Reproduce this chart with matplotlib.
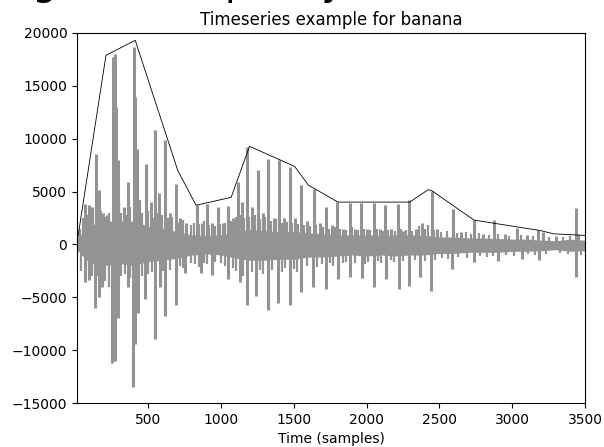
import matplotlib
matplotlib.use("Agg")
import matplotlib.pyplot as plt

# dense core of the waveform, read every 100 samples
band_t = [0, 100, 200, 300, 400, 500, 600, 700, 800, 900, 1000, 1100, 1200,
          1300, 1400, 1500, 1600, 1700, 1800, 1900, 2000, 2100, 2200, 2300,
          2400, 2500, 2600, 2700, 2800, 2900, 3000, 3100, 3200, 3300, 3400, 3500]
band_top = [400, 1800, 2200, 2200, 2200, 1700, 1500, 1200, 900, 850, 900,
            1200, 1400, 1300, 1200, 1200, 1100, 1000, 900, 900, 900, 850,
            900, 900, 850, 700, 700, 600, 600, 550, 500, 500, 400, 350, 500, 400]
band_bot = [-400, -1800, -2000, -1800, -2000, -1600, -1500, -1300, -1000, -900,
            -1000, -1300, -1500, -1500, -1400, -1400, -1200, -1200, -1100, -1000,
            -1100, -1000, -1100, -1000, -1000, -850, -850, -750, -750, -750,
            -650, -650, -600, -500, -650, -600]

# positive spikes (sample, amplitude)
pos_t = [64, 94, 110, 140, 163, 190, 215, 255, 268, 275, 289, 330, 357, 399,
         410, 425, 484, 520, 546, 576, 615, 650, 690, 720, 760, 835, 870, 904,
         940, 977, 1010, 1046, 1080, 1115, 1145, 1177, 1210, 1252, 1290, 1321,
         1360, 1397, 1430, 1470, 1510, 1551, 1590, 1636, 1680, 1718, 1760, 1799,
         1840, 1883, 1920, 1964, 2000, 2051, 2090, 2129, 2170, 2216, 2250, 2292,
         2340, 2380, 2446, 2480, 2590, 2650, 2737, 2800, 2875, 2950, 3035, 3100,
         3180, 3214, 3300, 3436]
pos_y = [3850, 3690, 3500, 8580, 5110, 3000, 2800, 17700, 18000, 13000, 7950,
         3500, 5900, 18670, 13930, 9000, 7630, 4000, 10850, 4820, 9840, 3000,
         5740, 2500, 2000, 3690, 2000, 3850, 2000, 3530, 2000, 3600, 2500, 5900,
         4000, 9210, 3500, 7000, 3000, 8100, 2500, 8010, 2500, 7310, 2500, 5580,
         2200, 5270, 2000, 3530, 1800, 4000, 1500, 3910, 1500, 3910, 1500, 3910,
         1500, 3690, 1500, 3850, 1300, 4160, 1500, 2000, 5050, 1500, 3370, 1200,
         2270, 1000, 2270, 1000, 1580, 900, 1390, 1200, 800, 3470]

# negative spikes (sample, amplitude)
neg_t = [66, 94, 135, 163, 185, 252, 273, 290, 357, 395, 410, 430, 479, 548,
         580, 617, 690, 755, 860, 935, 1050, 1133, 1175, 1243, 1320, 1388, 1470,
         1546, 1629, 1718, 1800, 1883, 1966, 2052, 2131, 2220, 2289, 2365, 2441,
         2585, 2737, 2902, 3068, 3185, 3440]
neg_y = [-3570, -3400, -6000, -5000, -4000, -11240, -11000, -7000, -4000,
         -13500, -9400, -6500, -5200, -8950, -4000, -6800, -5700, -2700, -2700,
         -2900, -3300, -3570, -5770, -4900, -6250, -5500, -5770, -4480, -4050,
         -4200, -3300, -3050, -3200, -4050, -3300, -4200, -3950, -3100, -4380,
         -2300, -1700, -1550, -1400, -1450, -3090]

# smaller strokes around the core
minor_up_t = [30, 50, 80, 120, 150, 175, 205, 230, 300, 315, 345, 375, 440, 455,
              500, 530, 560, 595, 635, 665, 705, 740, 790, 815, 850, 885, 920,
              960, 995, 1030, 1065, 1100, 1130, 1160, 1195, 1230, 1270, 1305,
              1340, 1380, 1415, 1450, 1490, 1530, 1570, 1610, 1655, 1700, 1740,
              1780, 1820, 1860, 1900, 1940, 1980, 2020, 2070, 2110, 2150, 2195,
              2235, 2270, 2315, 2360, 2400, 2420, 2465, 2510, 2550, 2620, 2680,
              2720, 2770, 2840, 2900, 2980, 3060, 3140, 3250, 3350, 3400, 3460]
minor_up_y = [1500, 2500, 2800, 3000, 2500, 3200, 2600, 3000, 4000, 3000, 2800,
              3500, 4200, 3000, 3200, 2500, 3000, 2800, 2500, 2600, 2000, 2300,
              1800, 2000, 1900, 2200, 1800, 1700, 1900, 2000, 2200, 2600, 2800,
              2500, 2600, 2800, 2400, 2600, 2200, 2400, 2000, 2100, 2000, 1900,
              1800, 1700, 1800, 1600, 1500, 1600, 1500, 1400, 1600, 1400, 1500,
              1400, 1500, 1300, 1400, 1300, 1500, 1400, 1300, 1700, 1500, 1800,
              1400, 1200, 1300, 1100, 1200, 1000, 1100, 900, 1000, 800, 900,
              800, 700, 700, 800, 900]
minor_dn_t = [40, 75, 110, 150, 205, 230, 315, 340, 375, 455, 500, 525, 600,
              650, 715, 735, 790, 820, 845, 880, 905, 960, 1000, 1025, 1080,
              1100, 1150, 1210, 1270, 1290, 1350, 1420, 1440, 1500, 1520, 1590,
              1660, 1690, 1750, 1770, 1840, 1860, 1920, 1990, 2010, 2080, 2100,
              2170, 2190, 2250, 2330, 2400, 2470, 2520, 2560, 2630, 2690, 2780,
              2830, 2870, 2960, 3010, 3110, 3160, 3230, 3330, 3380, 3470]
minor_dn_y = [-2500, -2800, -3000, -3000, -3500, -4000, -3000, -2800, -3200,
              -3000, -2800, -2600, -2500, -2400, -2000, -2200, -1800, -1900,
              -2100, -1800, -1900, -1700, -1800, -2000, -2200, -2500, -3000,
              -2600, -2400, -2800, -2400, -2600, -2200, -2300, -2600, -2000,
              -2100, -1900, -1800, -2000, -1800, -1700, -1800, -1900, -1700,
              -1600, -1800, -1500, -1700, -1600, -1500, -1600, -1500, -1300,
              -1400, -1200, -1300, -1100, -1200, -1100, -1000, -1100, -900,
              -1000, -900, -800, -900, -1000]

# peak envelope
env_t = [15, 209, 410, 702, 828, 1069, 1195, 1505, 1600, 1803, 2296, 2422,
         2446, 2737, 3035, 3191, 3283, 3500]
env_y = [600, 17880, 19300, 7000, 3700, 4450, 9270, 7380, 5600, 4000, 4000,
         5170, 5100, 2300, 1650, 1320, 1000, 850]

wave_color = '#939393'

fig = plt.figure(figsize=(6.04, 4.47), dpi=100)
ax = fig.add_axes([0.1275, 0.0984, 0.841, 0.828])

ax.fill_between(band_t, band_bot, band_top, color=wave_color, lw=0)
ax.vlines(minor_up_t, 0, minor_up_y, color=wave_color, lw=1.6)
ax.vlines(minor_dn_t, minor_dn_y, 0, color=wave_color, lw=1.6)
ax.vlines(pos_t, 0, pos_y, color=wave_color, lw=2.2)
ax.vlines(neg_t, neg_y, 0, color=wave_color, lw=2.2)
ax.plot(env_t, env_y, color='k', lw=0.6)

ax.set_xlim(10, 3500)
ax.set_ylim(-15000, 20000)
ax.set_title('Timeseries example for banana', fontsize=12)
ax.set_xlabel('Time (samples)', fontsize=10)
ax.tick_params(labelsize=10)

# suptitle sitting above the figure edge, only descenders show
fig.text(-0.068, 1.011, 'Image of sample by class', fontsize=28, va='baseline', ha='left')

fig.savefig('out.png', dpi=100)
